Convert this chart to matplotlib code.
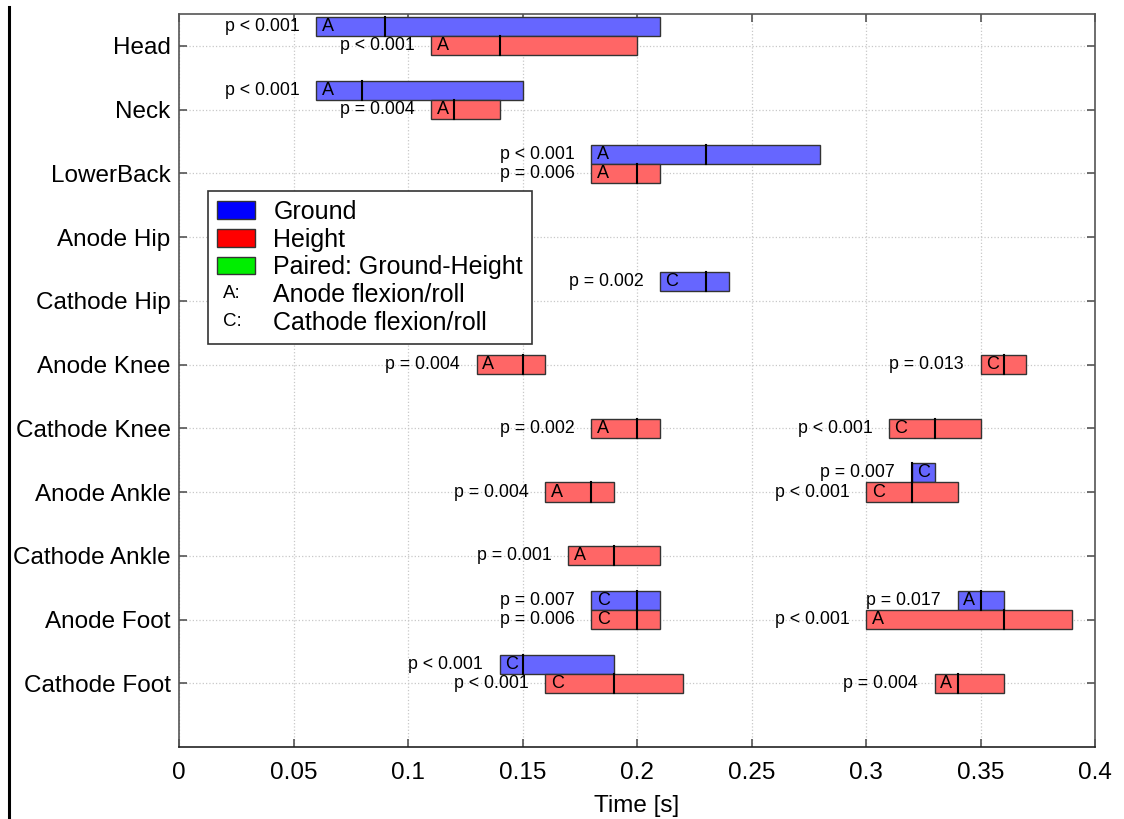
import matplotlib.pyplot as plt
from matplotlib.patches import Patch
from matplotlib.lines import Line2D
from matplotlib.legend_handler import HandlerBase
from matplotlib.text import Text

plt.rcParams['font.family'] = ['Liberation Sans', 'DejaVu Sans']

categories = ['Head', 'Neck', 'LowerBack', 'Anode Hip', 'Cathode Hip', 'Anode Knee',
              'Cathode Knee', 'Anode Ankle', 'Cathode Ankle', 'Anode Foot', 'Cathode Foot']

# Ground intervals (row index, start, median, end, joint, p-value)
g_row = [0, 1, 2, 4, 7, 9, 9, 10]
g_lo = [0.06, 0.06, 0.18, 0.21, 0.32, 0.18, 0.34, 0.14]
g_med = [0.09, 0.08, 0.23, 0.23, 0.32, 0.20, 0.35, 0.15]
g_hi = [0.21, 0.15, 0.28, 0.24, 0.33, 0.21, 0.36, 0.19]
g_joint = ['A', 'A', 'A', 'C', 'C', 'C', 'A', 'C']
g_p = ['p < 0.001', 'p < 0.001', 'p < 0.001', 'p = 0.002', 'p = 0.007', 'p = 0.007',
       'p = 0.017', 'p < 0.001']

# Height intervals
h_row = [0, 1, 2, 5, 5, 6, 6, 7, 7, 8, 9, 9, 10, 10]
h_lo = [0.11, 0.11, 0.18, 0.13, 0.35, 0.18, 0.31, 0.16, 0.30, 0.17, 0.18, 0.30, 0.16, 0.33]
h_med = [0.14, 0.12, 0.20, 0.15, 0.36, 0.20, 0.33, 0.18, 0.32, 0.19, 0.20, 0.36, 0.19, 0.34]
h_hi = [0.20, 0.14, 0.21, 0.16, 0.37, 0.21, 0.35, 0.19, 0.34, 0.21, 0.21, 0.39, 0.22, 0.36]
h_joint = ['A', 'A', 'A', 'A', 'C', 'A', 'C', 'A', 'C', 'A', 'C', 'A', 'C', 'A']
h_p = ['p < 0.001', 'p = 0.004', 'p = 0.006', 'p = 0.004', 'p = 0.013', 'p = 0.002',
       'p < 0.001', 'p = 0.004', 'p < 0.001', 'p = 0.001', 'p = 0.006', 'p < 0.001',
       'p < 0.001', 'p = 0.004']

bar_h = 0.3


class TextHandler(HandlerBase):
    def __init__(self, s):
        super().__init__()
        self.s = s

    def create_artists(self, legend, orig_handle, xdescent, ydescent, width, height, fontsize, trans):
        t = Text(x=width * 0.15, y=height / 2 - ydescent, text=self.s, fontsize=fontsize * 0.75,
                 ha='left', va='center', transform=trans)
        return [t]


fig = plt.figure(figsize=(11.24, 8.19), dpi=100)
ax = fig.add_axes([0.1593, 0.0879, 0.815, 0.895])


def draw(rows, lo, med, hi, joint, pv, offset, color):
    ys = [r + 1 + offset for r in rows]
    widths = [b - a for a, b in zip(lo, hi)]
    ax.barh(ys, widths, left=lo, height=bar_h, color=color, edgecolor='#333333',
            linewidth=1.0, zorder=3)
    for y, a, m, j, p in zip(ys, lo, med, joint, pv):
        ax.plot([m, m], [y - bar_h / 2, y + bar_h / 2], color='black', lw=1.5, zorder=4)
        ax.annotate(j, (a, y), xytext=(4, 0), textcoords='offset points',
                    ha='left', va='center', fontsize=13, zorder=5)
        ax.annotate(p, (a, y), xytext=(-12, 0), textcoords='offset points',
                    ha='right', va='center', fontsize=12.8, zorder=5)


draw(g_row, g_lo, g_med, g_hi, g_joint, g_p, -bar_h, '#6666ff')
draw(h_row, h_lo, h_med, h_hi, h_joint, h_p, 0.0, '#ff6666')

ax.set_xlim(0, 0.4)
ax.set_ylim(12, 0.5)
ax.set_xticks([0, 0.05, 0.1, 0.15, 0.2, 0.25, 0.3, 0.35, 0.4])
ax.set_xticklabels(['0', '0.05', '0.1', '0.15', '0.2', '0.25', '0.3', '0.35', '0.4'])
ax.set_yticks(range(1, len(categories) + 1))
ax.set_yticklabels(categories)
ax.tick_params(direction='in', top=True, right=True, length=6, width=1.2,
               color='#555555', labelsize=17.5)
ax.tick_params(axis='x', pad=11)
ax.tick_params(axis='y', pad=6)
ax.grid(True, linestyle=':', color='#c8c8c8', linewidth=0.9, zorder=0)
ax.set_axisbelow(True)
for s in ax.spines.values():
    s.set_color('#555555')
    s.set_linewidth(1.2)
ax.spines['bottom'].set_color('#222222')
ax.set_xlabel('Time [s]', fontsize=17.5, labelpad=8)

handles = [Patch(facecolor='#0000ff', edgecolor='#333333'),
           Patch(facecolor='#ff0000', edgecolor='#333333'),
           Patch(facecolor='#00ee00', edgecolor='#333333'),
           'A', 'C']
labels = ['Ground', 'Height', 'Paired: Ground-Height', 'Anode flexion/roll', 'Cathode flexion/roll']
leg = ax.legend(handles, labels, loc='upper left', bbox_to_anchor=(0.032, 0.7585),
                fontsize=18, frameon=True, fancybox=False, edgecolor='#333333',
                framealpha=1, borderaxespad=0, borderpad=0.35, labelspacing=0.15,
                handlelength=1.5, handleheight=0.7, handletextpad=0.75,
                handler_map={'A': TextHandler('A:'), 'C': TextHandler('C:')})
leg.get_frame().set_linewidth(1.2)
leg.set_zorder(10)

fig.add_artist(Line2D([0.008, 0.008], [0, 0.9915], transform=fig.transFigure,
                      color='black', lw=2.2))

fig.savefig('out.png', dpi=100)
